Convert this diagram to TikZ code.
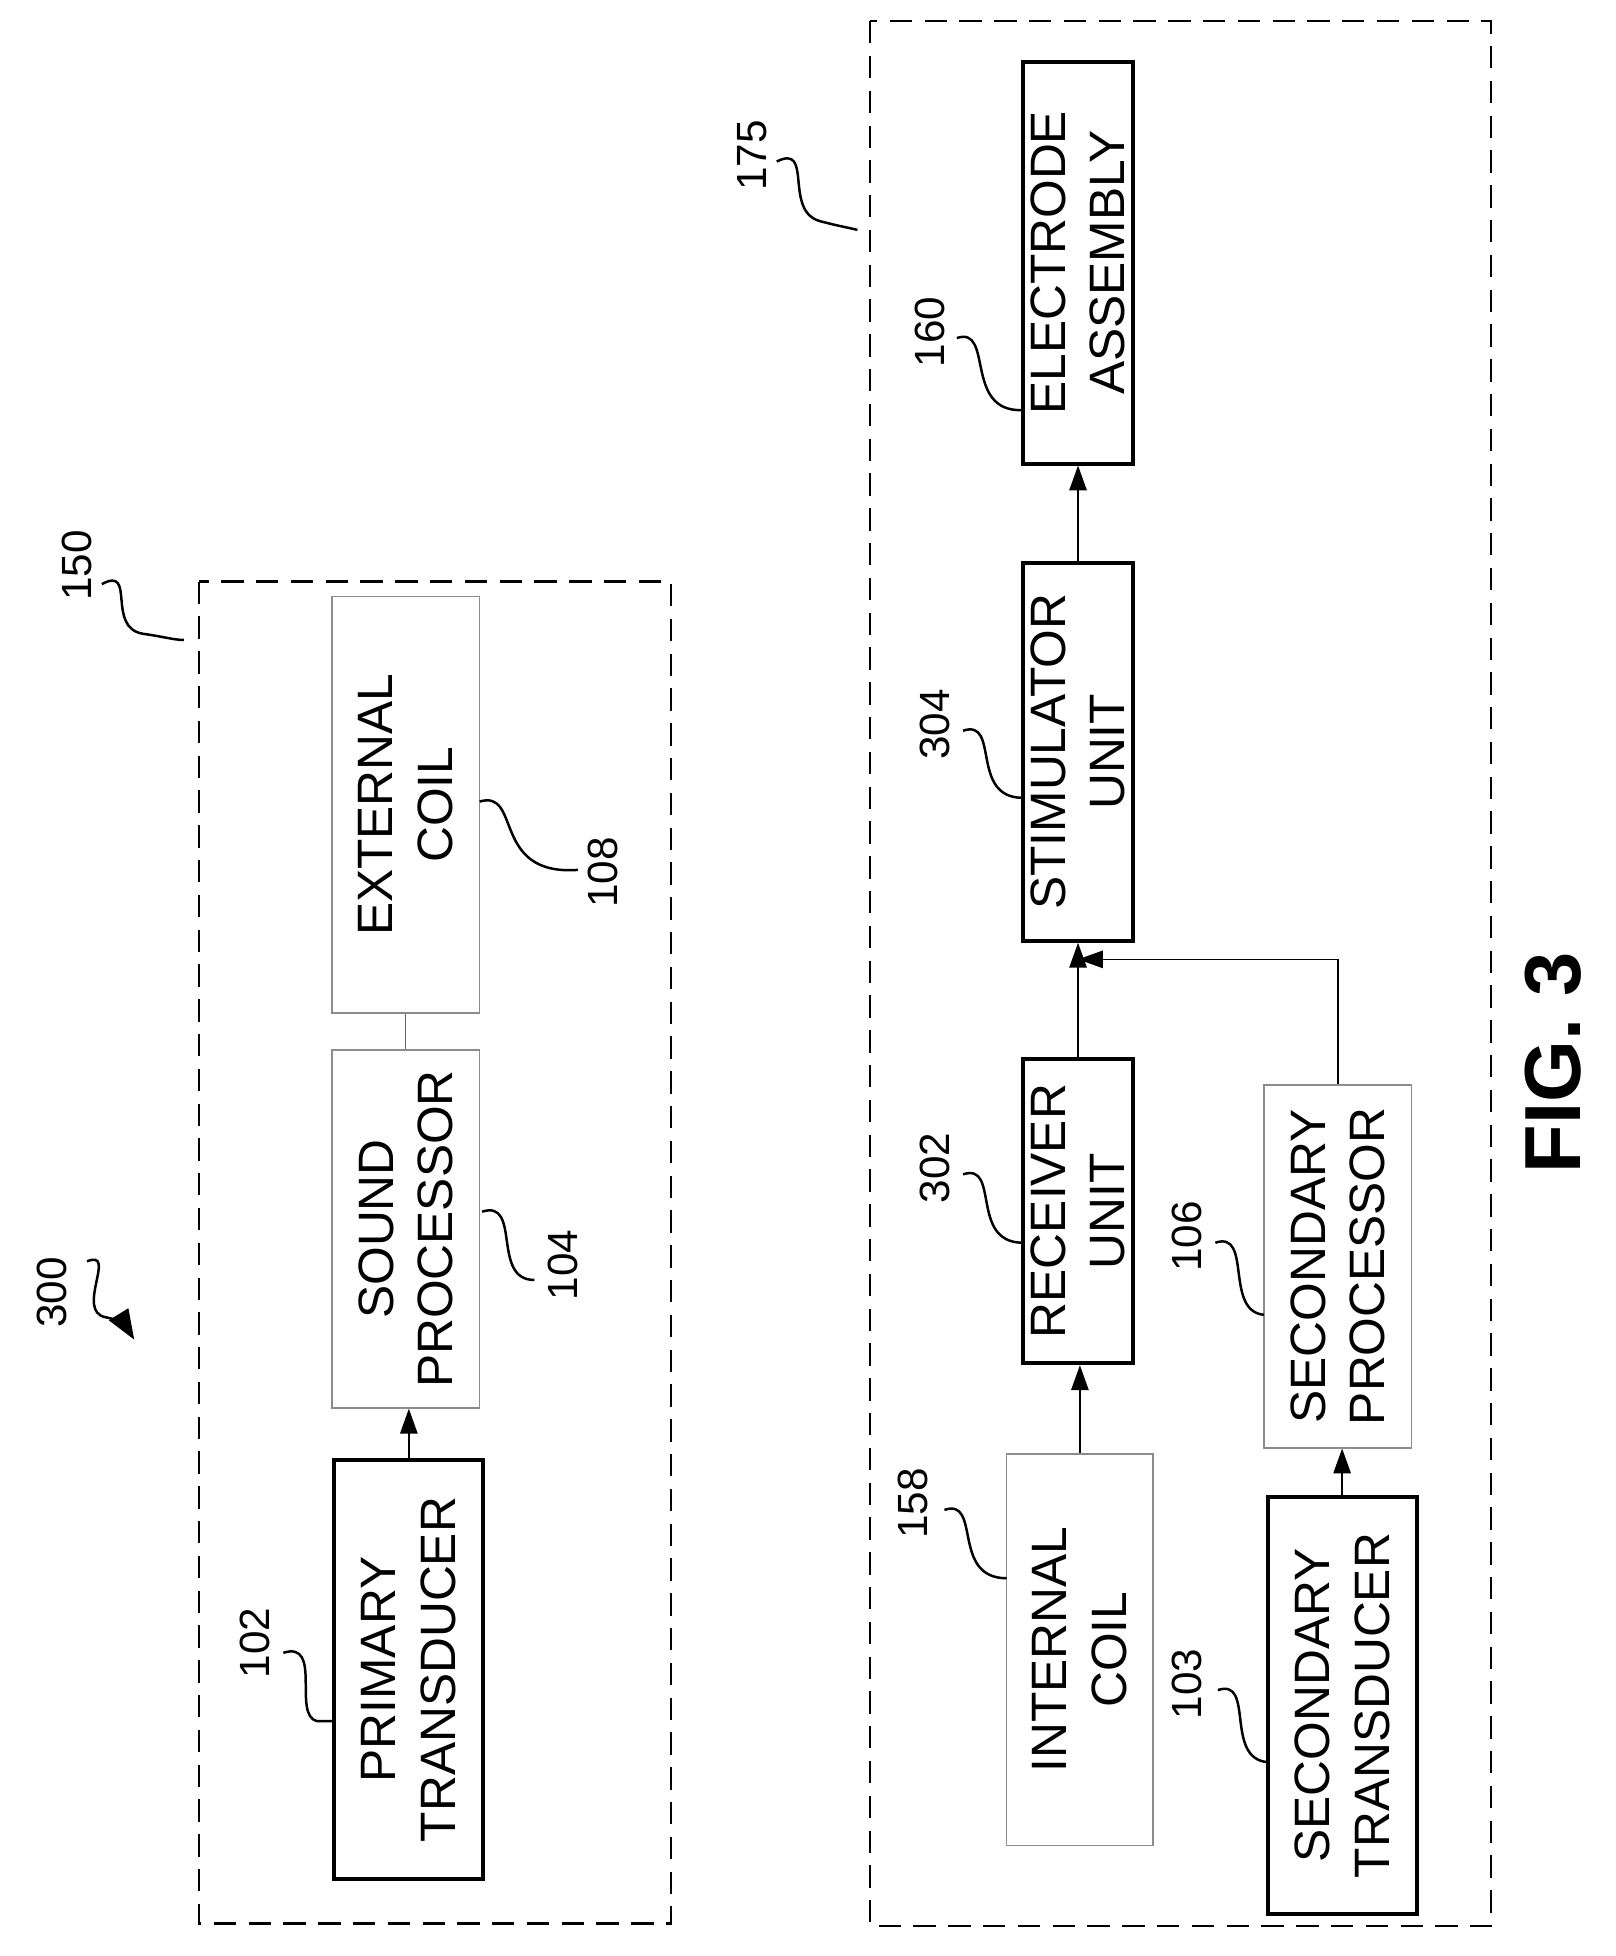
\documentclass[tikz,border=0pt]{standalone}
\usepackage{fontspec}
\setmainfont{Liberation Sans}
\usetikzlibrary{arrows.meta}
\begin{document}
\begin{tikzpicture}[x=0.5pt,y=-0.5pt,
 thick box/.style={draw,line width=1.6pt,rotate=90,align=center,inner sep=0pt,font=\fontsize{20}{24}\selectfont},
 thin box/.style={draw=black!45,line width=0.6pt,rotate=90,align=center,inner sep=0pt,font=\fontsize{20}{24}\selectfont},
 lbl/.style={rotate=90,font=\fontsize{17}{20}\selectfont,inner sep=1pt},
 sq/.style={line width=1pt},
 ar/.style={-{Triangle[length=10pt,width=7pt]},line width=0.6pt},
 dashbox/.style={dash pattern=on 9pt off 5pt,line width=1pt}]
\useasboundingbox (0,0) rectangle (1300,1574);
\draw[dashbox] (160,468) rectangle (540,1548);
\draw[dashbox] (700,17) rectangle (1200,1550);
% left group
\node[thin box,minimum width=335pt*0.5,minimum height=119pt*0.5] (ec) at (326.5,647.5) {EXTERNAL\\COIL};
\node[thin box,minimum width=288pt*0.5,minimum height=119pt*0.5] (sp) at (326.5,989) {SOUND\\PROCESSOR};
\node[thick box,minimum width=337pt*0.5,minimum height=120pt*0.5] (pt) at (329,1343.5) {PRIMARY\\TRANSDUCER};
\draw[line width=0.6pt,black!60] (ec.west) -- (sp.east);
\draw[ar] (pt.east) -- (pt.east|-sp.west);
% right group
\node[thick box,minimum width=323pt*0.5,minimum height=89pt*0.5] (ea) at (867.5,211.5) {ELECTRODE\\ASSEMBLY};
\node[thick box,minimum width=304pt*0.5,minimum height=89pt*0.5] (su) at (867.5,605) {STIMULATOR\\UNIT};
\node[thick box,minimum width=245pt*0.5,minimum height=89pt*0.5] (ru) at (867.5,974.5) {RECEIVER\\UNIT};
\node[thin box,minimum width=315pt*0.5,minimum height=118pt*0.5] (ic) at (869,1327.5) {INTERNAL\\COIL};
\node[thin box,minimum width=292pt*0.5,minimum height=119pt*0.5] (spr) at (1076.5,1019) {SECONDARY\\PROCESSOR};
\node[thick box,minimum width=335pt*0.5,minimum height=120pt*0.5] (st) at (1080,1372.5) {SECONDARY\\TRANSDUCER};
\coordinate (j) at (867.5,772);
\draw[ar] (su.east) -- (ea.west);
\draw[ar] (ru.east) -- (su.west);
\draw[ar] (ic.east) -- (ic.east|-ru.west);
\draw[ar] (spr.east) -- (spr.east|-j) -- (j);
\draw[ar] (st.east) -- (st.east|-spr.west);
% labels
\node[lbl] (l300) at (42,1040) {300};
\draw[sq,-{Triangle[length=12pt,width=9pt]}] (70,1015) .. controls (95,1005) and (60,1055) .. (85,1060) .. controls (95,1062) and (100,1065) .. (108,1078);
\node[lbl] (l150) at (62,455) {150};
\draw[sq] (82,470) .. controls (110,455) and (85,505) .. (115,510) .. controls (130,512) and (140,515) .. (148,515);
\node[lbl] (l175) at (605,125) {175};
\draw[sq] (625,130) .. controls (655,115) and (630,170) .. (660,178) .. controls (675,182) and (682,183) .. (690,185);
\node[lbl] (l102) at (205,1322) {102};
\draw[sq] (228,1330) .. controls (260,1320) and (235,1380) .. (255,1385) -- (268,1385);
\node[lbl] (l104) at (453,1018) {104};
\draw[sq] (388,975) .. controls (420,965) and (395,1030) .. (430,1030);
\node[lbl] (l108) at (485,702) {108};
\draw[sq] (386,645) .. controls (420,635) and (395,705) .. (465,700);
\node[lbl] (l158) at (735,1210) {158};
\draw[sq] (760,1215) .. controls (790,1205) and (765,1270) .. (810,1270);
\node[lbl] (l103) at (955,1355) {103};
\draw[sq] (980,1360) .. controls (1010,1350) and (985,1415) .. (1020,1418);
\node[lbl] (l106) at (955,995) {106};
\draw[sq] (978,1000) .. controls (1008,990) and (985,1055) .. (1017,1058);
\node[lbl] (l302) at (752,940) {302};
\draw[sq] (775,945) .. controls (805,935) and (780,1000) .. (823,1000);
\node[lbl] (l304) at (752,583) {304};
\draw[sq] (775,588) .. controls (805,578) and (780,642) .. (823,642);
\node[lbl] (l160) at (748,267) {160};
\draw[sq] (770,272) .. controls (800,262) and (775,332) .. (823,330);
\node[rotate=90,font=\fontsize{32}{36}\selectfont\bfseries] (fig) at (1250,855) {FIG. 3};
\end{tikzpicture}
\end{document}
